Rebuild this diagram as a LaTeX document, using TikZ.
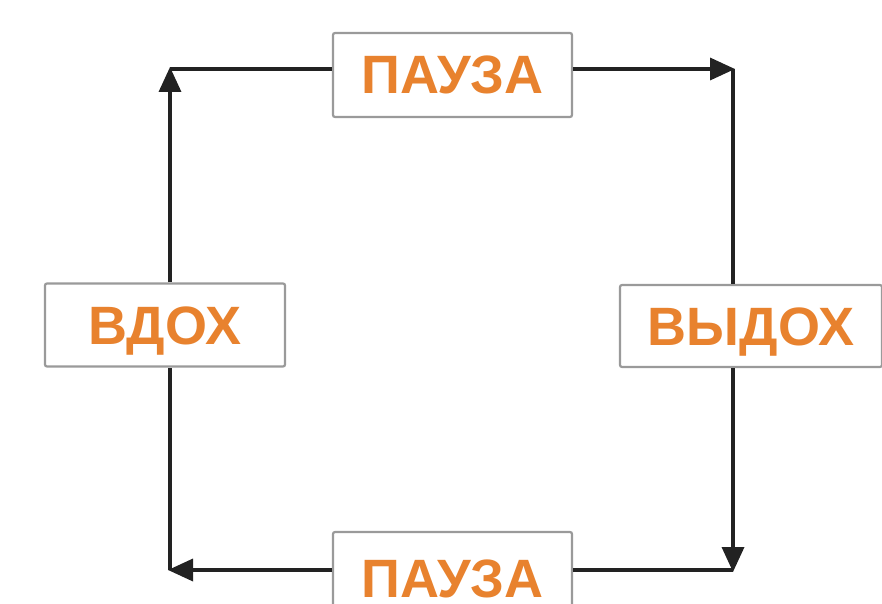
\documentclass[tikz,border=0pt]{standalone}
\usepackage{fontspec}
\setmainfont{Liberation Sans}
\usetikzlibrary{arrows.meta}
\definecolor{txtorange}{HTML}{E8822E}
\definecolor{boxgray}{HTML}{9A9A9A}
\definecolor{linedark}{HTML}{222222}
\tikzset{
  phase/.style={draw=boxgray, line width=2.2pt, fill=white, rounded corners=2pt,
    inner sep=0pt, text=txtorange, text height=38pt, text depth=0pt,
    font=\bfseries\fontsize{54}{54}\selectfont},
  flow/.style={draw=linedark, line width=3.5pt},
  flowarrow/.style={flow, -{Triangle[length=25pt,width=22pt]}, shorten >=-2pt}
}
\begin{document}
\begin{tikzpicture}[x=1pt,y=-1pt]
\useasboundingbox (0,0) rectangle (882,604);
\node[phase, minimum width=239pt, minimum height=84pt] (p1) at (452.5,75) {ПАУЗА};
\node[phase, minimum width=240pt, minimum height=83pt] (in) at (165,325) {ВДОХ};
\node[phase, minimum width=262pt, minimum height=82pt] (out) at (751,326) {ВЫДОХ};
\node[phase, minimum width=239pt, minimum height=92pt] (p2) at (452.5,578) {ПАУЗА};
\coordinate (tl) at (170,69);
\coordinate (tr) at (733,69);
\coordinate (br) at (733,570);
\coordinate (bl) at (170,570);
\draw[flowarrow] (in.north -| tl) -- (tl);
\draw[flow] (tl) -- (p1.west |- tl);
\draw[flowarrow] (p1.east |- tr) -- (tr);
\draw[flow] (tr) -- (out.north -| tr);
\draw[flowarrow] (out.south -| br) -- (br);
\draw[flow] (br) -- (p2.east |- br);
\draw[flowarrow] (p2.west |- bl) -- (bl);
\draw[flow] (bl) -- (in.south -| bl);
\end{tikzpicture}
\end{document}
